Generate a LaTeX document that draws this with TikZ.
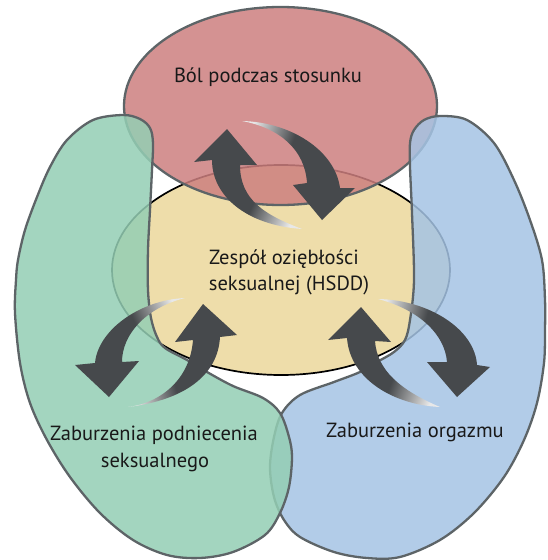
\documentclass[tikz,border=0pt]{standalone}
\usepackage{fontspec}
\setmainfont{PT Sans}
\definecolor{adark}{HTML}{46494C}
\definecolor{alight}{HTML}{E8E8E8}
\definecolor{outl}{HTML}{5D6467}
\definecolor{redf}{HTML}{CD7F7F}
\definecolor{greenf}{HTML}{94CEB4}
\definecolor{bluef}{HTML}{A5C4E4}
\definecolor{yellowf}{HTML}{EEDDAA}
\pgfdeclarehorizontalshading{arrowfade}{100bp}{color(0bp)=(adark); color(57bp)=(adark); color(77bp)=(alight); color(100bp)=(alight)}
\begin{document}
\begin{tikzpicture}[x=1pt,y=-1pt,
  blob/.style={draw=outl, line width=2.3pt, fill opacity=0.85, line join=round},
  redshape/.style={blob, fill=redf},
  greenshape/.style={blob, fill=greenf},
  blueshape/.style={blob, fill=bluef},
  coreshape/.style={draw=black, line width=1.7pt, fill=yellowf},
  bendarrow/.style={shading=arrowfade},
  lbl/.style={font=\fontsize{20.5}{24}\selectfont, text=black!90, inner sep=0pt, anchor=base}]
\useasboundingbox (0,0) rectangle (547,560);
\fill[white] (0,0) rectangle (547,560);
% central ellipse (HSDD)
\filldraw[coreshape] (281,270) ellipse [x radius=169, y radius=105];
% red ellipse
\filldraw[redshape] (280.5,106) ellipse [x radius=156.5, y radius=99];
% blue kidney
\filldraw[blueshape] plot[smooth cycle, tension=0.55] coordinates {
 (440,116) (467,120) (494,143) (514,180) (530,220) (542,260) (545,300) (545,330)
 (544,363) (537,403) (524,440) (504,477) (474,513) (440,540) (400,557) (367,558)
 (334,552) (300,537) (284,520) (274,497) (270,467) (274,437) (282,413) (300,395)
 (334,382) (360,372) (377,362) (394,352) (405,340) (410,320) (414,280) (412,213)
 (410,167) (410,143) (414,130) (424,120)};
% green kidney
\filldraw[greenshape] plot[smooth cycle, tension=0.55] coordinates {
 (123,115) (140,119) (150,128) (153,143) (152,170) (150,210) (148,250) (148,290)
 (151,318) (157,337) (165,348) (187,360) (207,372) (233,386) (263,398) (280,413)
 (289,437) (292,457) (289,487) (280,513) (265,535) (233,552) (200,558) (167,555)
 (133,540) (100,513) (70,477) (47,440) (30,403) (20,363) (15,313) (16,280)
 (18,260) (25,230) (37,197) (50,167) (67,140) (93,120)};
% arrows top
\shade[bendarrow, shading angle=-25] (302,229) .. controls (265,215) and (240,200) .. (240,165)
  -- (257,165) -- (227,129) -- (194,162) -- (212,160) .. controls (212,195) and (245,225) .. (302,229) -- cycle;
\shade[bendarrow, shading angle=160] (242,121) .. controls (290,122) and (335,150) .. (340,188)
  -- (355,188) -- (322,220) -- (293,185) -- (307,183) .. controls (305,150) and (280,128) .. (242,121) -- cycle;
% arrows bottom left
\shade[bendarrow, shading angle=25] (185,298) .. controls (140,300) and (98,330) .. (95,363)
  -- (75,365) -- (109,397) -- (139,361) -- (122,362) .. controls (122,335) and (145,308) .. (185,298) -- cycle;
\shade[bendarrow, shading angle=195] (128,407) .. controls (185,400) and (218,375) .. (220,337)
  -- (237,335) -- (203,304) -- (175,342) -- (193,340) .. controls (190,380) and (160,403) .. (128,407) -- cycle;
% arrows bottom right
\shade[bendarrow, shading angle=-20] (440,407) .. controls (400,390) and (377,370) .. (375,341)
  -- (391,342) -- (361,307) -- (328,340) -- (347,338) .. controls (350,380) and (395,405) .. (440,407) -- cycle;
\shade[bendarrow, shading angle=165] (378,299) .. controls (430,300) and (475,330) .. (477,365)
  -- (490,367) -- (457,397) -- (427,362) -- (447,362) .. controls (445,335) and (420,310) .. (378,299) -- cycle;
% labels
\node[lbl] (bol) at (268,82) {Ból podczas stosunku};
\node[lbl] (hsddA) at (284,264) {Zespół oziębłości};
\node[lbl] (hsddB) at (289,290) {seksualnej (HSDD)};
\node[lbl] (arousA) at (154,440) {Zaburzenia podniecenia};
\node[lbl] (arousB) at (155,467) {seksualnego};
\node[lbl] (orgasm) at (415,437) {Zaburzenia orgazmu};
\end{tikzpicture}
\end{document}
